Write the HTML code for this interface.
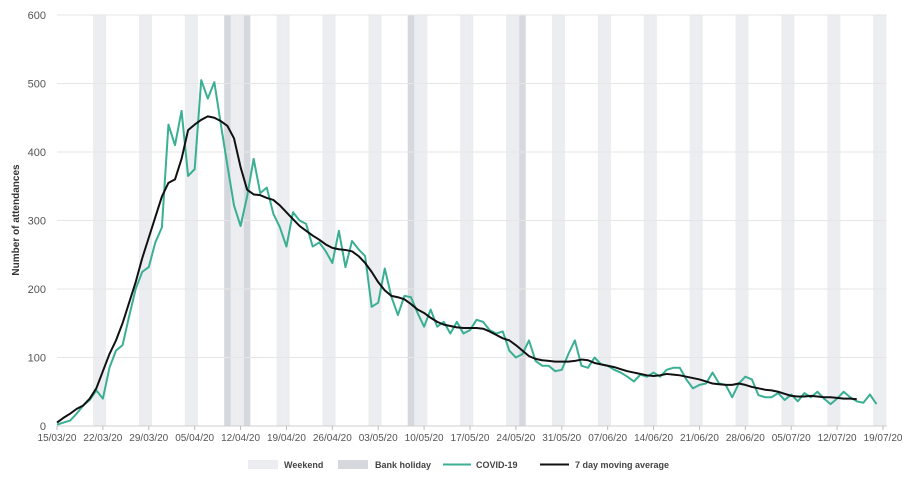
<!DOCTYPE html>
<html><head><meta charset="utf-8"><style>
html,body{margin:0;padding:0;background:#fff;}
svg{display:block;font-family:"Liberation Sans",sans-serif;}
</style></head><body>
<svg id="chart" width="907" height="479" viewBox="0 0 907 479">
<g id="bands"></g>
<g id="grid"></g>
<g id="yticks"></g>
<g id="xticks"></g>
<text transform="translate(19,220) rotate(-90)" text-anchor="middle" font-size="10" font-weight="bold" fill="#333">Number of attendances</text>
<g id="series"></g>
<g font-size="9" font-weight="bold" fill="#444">
<g><rect x="248" y="460" width="30" height="9" fill="#ebedf0"/><text x="284" y="468">Weekend</text></g>
<g><rect x="338" y="460" width="30" height="9" fill="#d5d9de"/><text x="375" y="468">Bank holiday</text></g>
<g><line x1="443" y1="464.5" x2="471" y2="464.5" stroke="#3aaf93" stroke-width="2"/><text x="476" y="468">COVID-19</text></g>
<g><line x1="540" y1="464.5" x2="569" y2="464.5" stroke="#111" stroke-width="2"/><text x="575" y="468">7 day moving average</text></g>
</g>
</svg>
<script>
const covid = [2,5,8,18,30,38,52,40,85,110,118,160,200,225,232,268,290,440,410,460,365,375,505,478,502,440,380,322,292,335,390,340,348,310,290,262,312,300,295,262,268,255,238,285,232,270,258,248,174,180,230,189,162,190,188,165,145,170,145,152,135,152,135,140,155,152,140,135,138,110,100,105,125,95,88,88,80,82,105,125,88,85,100,90,88,82,78,72,65,75,72,78,72,82,85,85,68,55,60,62,78,62,60,42,62,72,68,45,42,42,48,38,46,36,48,42,50,40,32,40,50,42,36,34,46,32];
const movingAvg = [5,12,18,25,30,40,55,80,105,125,150,180,210,245,275,305,335,355,360,390,432,440,447,452,450,445,438,420,378,345,338,337,333,330,322,312,302,292,285,278,272,265,260,258,257,255,248,238,225,210,198,190,188,185,178,170,165,158,152,148,146,144,143,143,143,142,138,133,128,125,118,110,102,98,96,95,94,94,94,95,97,96,92,90,88,86,83,80,78,76,74,73,74,76,75,74,72,70,68,65,62,61,60,60,62,60,57,55,53,52,50,47,44,43,43,44,43,42,42,41,40,40,39];
const weekendDays = [6,7,13,14,20,21,27,28,34,35,41,42,48,49,55,56,62,63,69,70,76,77,83,84,90,91,97,98,104,105,111,112,118,119,125,126];
const bankHolidays = [26,29,54,71];
const yTicks = [0,100,200,300,400,500,600];
const xTickLabels = ["15/03/20","22/03/20","29/03/20","05/04/20","12/04/20","19/04/20","26/04/20","03/05/20","10/05/20","17/05/20","24/05/20","31/05/20","07/06/20","14/06/20","21/06/20","28/06/20","05/07/20","12/07/20","19/07/20"];

const NS="http://www.w3.org/2000/svg";
const X0=57, X1=883, Y0=426, Y1=15, NDAYS=126, YMAX=600;
const xs=d=>X0+(X1-X0)*d/NDAYS;
const ys=v=>Y0-(Y0-Y1)*v/YMAX;
const dw=(X1-X0)/NDAYS;
function mk(tag,attrs,parent){const e=document.createElementNS(NS,tag);for(const k in attrs)e.setAttribute(k,attrs[k]);parent.appendChild(e);return e;}
const bands=document.getElementById('bands');
weekendDays.forEach(d=>{
  const r=mk('rect',{x:xs(d)-dw/2,y:Y1,width:dw,height:Y0-Y1,fill:'#ebedf0'},bands);
  
  
});
bankHolidays.forEach(d=>{
  const r=mk('rect',{x:xs(d)-dw/2,y:Y1,width:dw,height:Y0-Y1,fill:'#d5d9de'},bands);
  
  
});
const grid=document.getElementById('grid'), yt=document.getElementById('yticks');
yTicks.forEach(v=>{
  const l=mk('line',{x1:X0,x2:X1+4,y1:ys(v),y2:ys(v),stroke:v===0?'#cfcfcf':'#e6e6e6','stroke-width':1},grid);
  
  
  const t=mk('text',{x:46,y:ys(v)+4,'text-anchor':'end','font-size':11,fill:'#555'},yt);
  t.textContent=v;
  
  
});
const xt=document.getElementById('xticks');
xTickLabels.forEach((s,i)=>{
  const x=xs(i*7);
  const l=mk('line',{x1:x,x2:x,y1:Y0,y2:Y0+4,stroke:'#bbb'},xt);
  
  
  const t=mk('text',{x:x,y:441,'text-anchor':'middle','font-size':10,fill:'#555'},xt);
  t.textContent=s;
  
  
});
const ser=document.getElementById('series');
const p1=mk('polyline',{points:covid.map((v,i)=>xs(i)+','+ys(v)).join(' '),fill:'none',stroke:'#3aaf93','stroke-width':2,'stroke-linejoin':'round'},ser);


const p2=mk('polyline',{points:movingAvg.map((v,i)=>xs(i)+','+ys(v)).join(' '),fill:'none',stroke:'#111','stroke-width':2,'stroke-linejoin':'round'},ser);


</script>
</body></html>
